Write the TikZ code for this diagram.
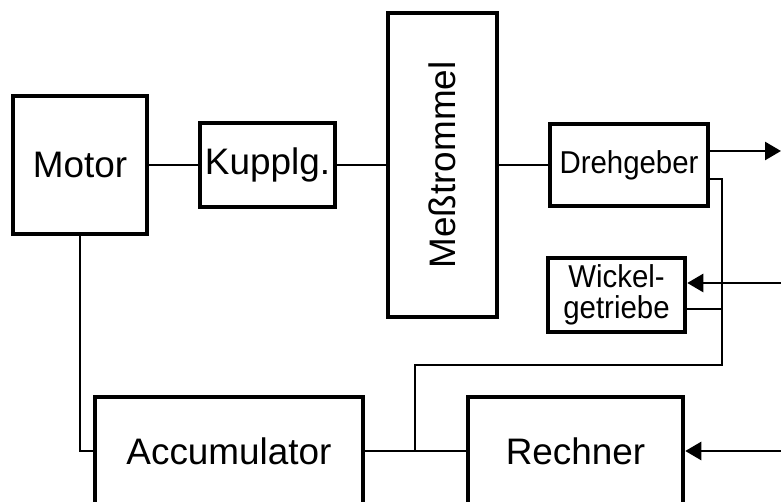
\documentclass[tikz,border=0pt]{standalone}
\usepackage{fontspec}
\setmainfont{Liberation Sans}
\newfontfamily\narrowsans[FakeStretch=0.93]{Liberation Sans}
\usetikzlibrary{arrows.meta}

\tikzset{
  block/.style={draw, line width=2.6pt, fill=white, inner sep=0pt,
    font=\fontsize{21}{24}\selectfont},
  smallblock/.style={block, font=\narrowsans\fontsize{18}{18}\selectfont},
  wire/.style={line width=1.5pt},
}

\begin{document}
\begin{tikzpicture}[x=0.02cm, y=-0.02cm, >={Triangle[length=0.32cm,width=0.36cm]}]
    \useasboundingbox (0,0) rectangle (781,502);
    \clip (0,0) rectangle (781,502);

    % Upper row
    \node[block, minimum width=2.68cm, minimum height=2.76cm] (motor) at (80,165) {Motor};
    \node[block, minimum width=2.7cm, minimum height=1.68cm] (kupplg) at (267.5,165) {Kupplg.};
    \node[block, minimum width=2.18cm, minimum height=6.08cm] (mess) at (442.5,165) {\rotatebox{90}{Meßtrommel}};
    \node[smallblock, minimum width=3.16cm, minimum height=1.64cm] (dreh) at (629,165) {Drehgeber};
    \node[smallblock, align=center, minimum width=2.74cm, minimum height=1.48cm] (wickel) at (616.5,295) {Wickel-\\getriebe};

    % Lower row (cut by the page edge)
    \node[block, minimum width=5.36cm, minimum height=2.16cm] (accu) at (229,451) {Accumulator};
    \node[block, minimum width=4.3cm, minimum height=2.16cm] (rechner) at (575.5,451) {Rechner};

    % Free ends and bends
    \coordinate (o1) at (781,151);
    \coordinate (i2) at (781,283);
    \coordinate (i3) at (781,451);
    \coordinate (k1) at (722,179);
    \coordinate (k2) at (722,365);
    \coordinate (k3) at (722,309);
    \coordinate (jn) at (415,451);

    % Shaft
    \draw[wire] (motor.east) -- (kupplg.west);
    \draw[wire] (kupplg.east) -- (mess.west);
    \draw[wire] (mess.east) -- (dreh.west);

    % Signals
    \draw[wire, ->] (o1 -| dreh.east) -- (o1);
    \draw[wire] (k1 -| dreh.east) -- (k1) -- (k2) -| (jn);
    \draw[wire, ->] (i2) -- (i2 -| wickel.east);
    \draw[wire] (k3 -| wickel.east) -- (k3);
    \draw[wire] (motor.south) |- (accu.west);
    \draw[wire] (accu.east) -- (rechner.west);
    \draw[wire, ->] (i3) -- (rechner.east);
\end{tikzpicture}
\end{document}
